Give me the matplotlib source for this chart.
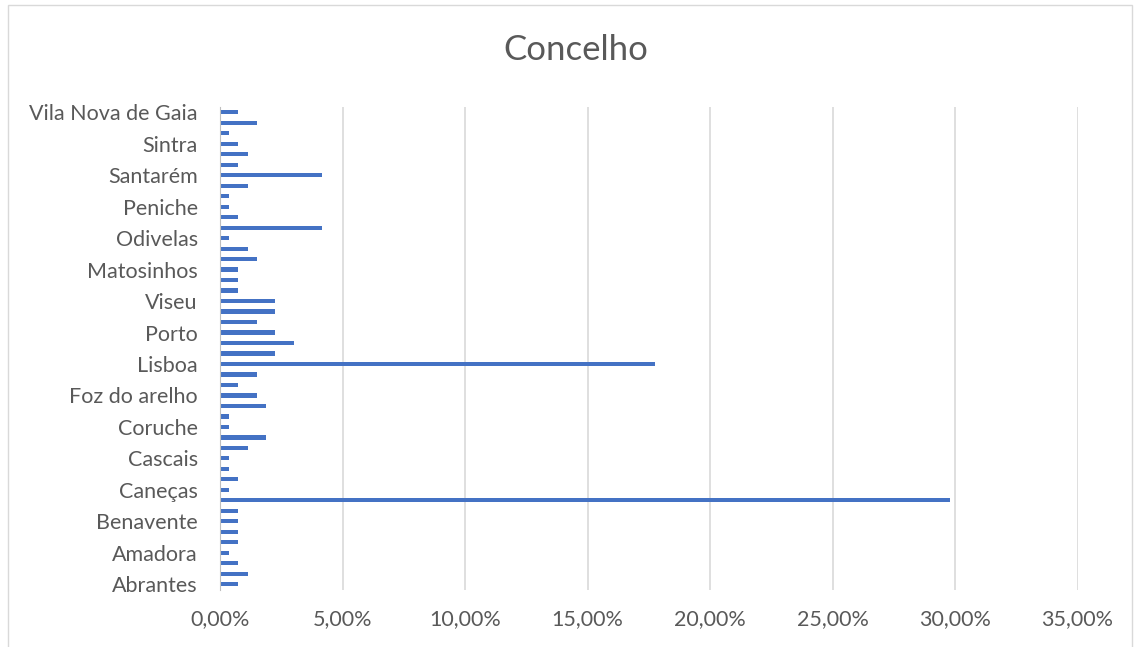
import numpy as np
import matplotlib
matplotlib.use("Agg")
import matplotlib.pyplot as plt
from matplotlib.patches import Rectangle

# categories bottom -> top; only every third name is shown on the axis
concelhos = ["Abrantes", "", "", "Amadora", "", "", "Benavente", "", "",
             "Caneças", "", "", "Cascais", "", "", "Coruche", "", "",
             "Foz do arelho", "", "", "Lisboa", "", "", "Porto", "", "",
             "Viseu", "", "", "Matosinhos", "", "", "Odivelas", "", "",
             "Peniche", "", "", "Santarém", "", "", "Sintra", "", "",
             "Vila Nova de Gaia"]

# share of answers (%)
percent = [0.75, 1.13, 0.75, 0.38, 0.75, 0.75, 0.75, 0.75, 29.81, 0.38,
           0.75, 0.38, 0.38, 1.13, 1.89, 0.38, 0.38, 1.89, 1.51, 0.75,
           1.51, 17.74, 2.26, 3.02, 2.26, 1.51, 2.26, 2.26, 0.75, 0.75,
           0.75, 1.51, 1.13, 0.38, 4.15, 0.75, 0.38, 0.38, 1.13, 4.15,
           0.75, 1.13, 0.75, 0.38, 1.51, 0.75]

xticks = [0, 5, 10, 15, 20, 25, 30, 35]

grey = "#595959"
plt.rcParams['font.family'] = ['Lato', 'DejaVu Sans']

fig = plt.figure(figsize=(11.38, 6.47), dpi=100)
fig.patches.append(Rectangle((8 / 1138, -0.01), 1124 / 1138, 1 - 5 / 647 + 0.01,
                             transform=fig.transFigure, fill=False,
                             edgecolor="#D9D9D9", linewidth=1))
ax = fig.add_axes([220 / 1138, 1 - 589.5 / 647, (1077.5 - 220) / 1138, (589.5 - 107) / 647])

y = np.arange(len(concelhos))
ax.barh(y, percent, height=0.4, color="#4472C4", zorder=3)

ax.set_xlim(0, 35)
ax.set_ylim(-0.5, len(concelhos) - 0.5)
ax.set_xticks(xticks)
ax.set_xticklabels([f"{v:.2f}%".replace(".", ",") for v in xticks], color=grey, fontsize=15.5)
ax.set_yticks(y)
ax.set_yticklabels(concelhos, color=grey, fontsize=15.5)
ax.tick_params(length=0)
ax.tick_params(axis="y", pad=16)
ax.tick_params(axis="x", pad=14)
ax.grid(axis="x", color="#D9D9D9", linewidth=1.2, zorder=0)
for s in ["top", "right", "bottom"]:
    ax.spines[s].set_visible(False)
ax.spines["left"].set_color("#BFBFBF")
ax.spines["left"].set_zorder(4)

fig.text(576 / 1138, 1 - 50 / 647, "Concelho", ha="center", va="center", fontsize=25,
         color=grey)

fig.savefig("out.png", dpi=100)
